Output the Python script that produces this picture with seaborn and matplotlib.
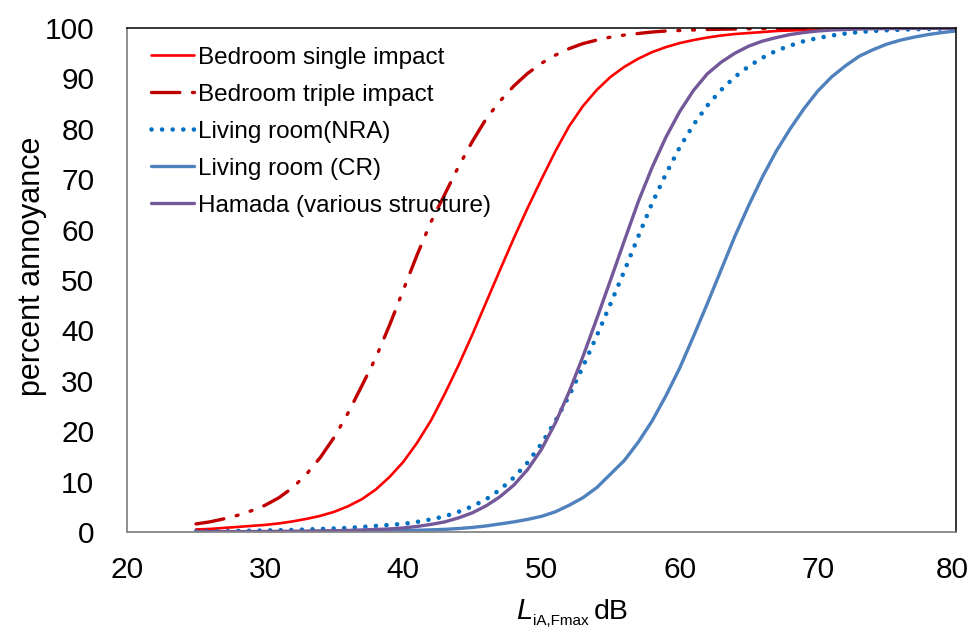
import matplotlib
matplotlib.use("Agg")
import matplotlib.pyplot as plt
import matplotlib.transforms as mtransforms
import seaborn as sns
import pandas as pd

# niveles LiA,Fmax (dB), un punto por dB
db = list(range(25, 81))

# porcentaje de molestia
bedroom_single = [0.5, 0.6, 0.8, 1.0, 1.2, 1.4, 1.7, 2.1, 2.6, 3.2,
                  4.0, 5.1, 6.5, 8.4, 10.9, 13.9, 17.7, 22.1, 27.4, 33.1,
                  39.2, 45.6, 52.0, 58.3, 64.3, 70.0, 75.5, 80.5, 84.5, 87.7,
                  90.3, 92.3, 93.9, 95.2, 96.2, 97.0, 97.6, 98.1, 98.5, 98.8,
                  99.0, 99.2, 99.4, 99.5, 99.6, 99.7, 99.75, 99.8, 99.85, 99.88,
                  99.9, 99.92, 99.94, 99.95, 99.96, 99.97]
bedroom_triple = [1.6, 2.0, 2.6, 3.3, 4.2, 5.3, 6.8, 8.8, 11.5, 14.8,
                  18.8, 23.6, 29.0, 34.5, 41.0, 48.0, 55.0, 61.5, 67.0, 72.5,
                  77.5, 82.0, 85.5, 88.5, 91.0, 93.0, 94.6, 95.9, 96.9, 97.6,
                  98.2, 98.6, 98.9, 99.2, 99.4, 99.5, 99.6, 99.7, 99.75, 99.8,
                  99.85, 99.88, 99.9, 99.92, 99.94, 99.95, 99.96, 99.97, 99.97, 99.98,
                  99.98, 99.98, 99.99, 99.99, 99.99, 99.99]
living_nra = [0.1, 0.1, 0.15, 0.2, 0.25, 0.3, 0.35, 0.4, 0.5, 0.6,
              0.7, 0.8, 1.0, 1.2, 1.4, 1.6, 2.0, 2.5, 3.1, 4.0,
              5.1, 6.5, 8.4, 10.8, 13.8, 17.5, 22.0, 27.0, 32.8, 38.9,
              45.3, 51.8, 58.6, 65.2, 71.0, 76.3, 80.8, 84.6, 87.7, 90.3,
              92.4, 94.1, 95.5, 96.5, 97.4, 98.0, 98.5, 98.9, 99.2, 99.4,
              99.55, 99.65, 99.75, 99.8, 99.85, 99.9]
living_cr = [0.02, 0.02, 0.03, 0.03, 0.04, 0.05, 0.05, 0.06, 0.07, 0.08,
             0.1, 0.12, 0.15, 0.18, 0.22, 0.28, 0.34, 0.42, 0.52, 0.68,
             0.9, 1.2, 1.6, 2.0, 2.5, 3.1, 4.0, 5.3, 6.8, 8.8,
             11.5, 14.2, 17.8, 22.0, 27.0, 32.5, 38.8, 45.3, 52.0, 58.7,
             64.8, 70.5, 75.6, 80.0, 84.0, 87.5, 90.3, 92.5, 94.4, 95.7,
             96.8, 97.6, 98.2, 98.7, 99.1, 99.4]
hamada = [0.05, 0.05, 0.06, 0.07, 0.08, 0.1, 0.12, 0.14, 0.17, 0.21,
          0.25, 0.3, 0.4, 0.5, 0.6, 0.8, 1.1, 1.5, 2.0, 2.8,
          3.8, 5.2, 7.0, 9.3, 12.4, 16.4, 21.6, 27.8, 34.8, 42.3,
          50.0, 57.8, 65.5, 72.3, 78.3, 83.4, 87.6, 90.9, 93.2, 95.0,
          96.4, 97.4, 98.1, 98.7, 99.1, 99.4, 99.6, 99.7, 99.8, 99.85,
          99.88, 99.9, 99.92, 99.94, 99.95, 99.96]

labels = ["Bedroom single impact", "Bedroom triple impact", "Living room(NRA)",
          "Living room (CR)", "Hamada (various structure)"]
x_ticks = [20, 30, 40, 50, 60, 70, 80]
y_ticks = [0, 10, 20, 30, 40, 50, 60, 70, 80, 90, 100]

df = pd.DataFrame({"db": db, labels[0]: bedroom_single, labels[1]: bedroom_triple,
                   labels[2]: living_nra, labels[3]: living_cr, labels[4]: hamada})

# estilo de cada serie
styles = {
    labels[0]: dict(color="#FF0000", lw=1.9, ls="-"),
    labels[1]: dict(color="#C00000", lw=2.4, ls=(0, (8.5, 3.8, 0.6, 3.8, 0.6, 3.8))),
    labels[2]: dict(color="#0070C0", lw=3.3, ls=(0, (0.01, 2.3))),
    labels[3]: dict(color="#4F81BD", lw=2.4, ls="-"),
    labels[4]: dict(color="#73589A", lw=2.4, ls="-"),
}

sns.set_style("white")
plt.rcParams["font.family"] = ["Liberation Sans", "DejaVu Sans"]
plt.rcParams["text.color"] = "black"
plt.rcParams["axes.labelcolor"] = "black"

fig, ax = plt.subplots(figsize=(9.69, 6.33), dpi=100)
fig.subplots_adjust(left=0.131, right=0.9866, bottom=0.1596, top=0.9558)

for name in labels:
    st = styles[name]
    sns.lineplot(x="db", y=name, data=df, ax=ax, label=name, color=st["color"],
                 linewidth=st["lw"], linestyle=st["ls"], dash_capstyle="round")

ax.set_xlim(20, 80)
ax.set_ylim(0, 100)
ax.set_xticks(x_ticks)
ax.set_yticks(y_ticks)
ax.tick_params(axis="both", labelsize=21.5, colors="#868686", labelcolor="black",
               direction="out", length=6.5, width=1.1)
ax.tick_params(axis="y", pad=17)
ax.tick_params(axis="x", pad=11)

# la etiqueta "80" queda pegada al borde, se corre un poco a la izquierda
last = ax.get_xticklabels()[-1]
last.set_transform(last.get_transform() + mtransforms.ScaledTranslation(-3 / 72, 0, fig.dpi_scale_trans))

for side in ["left", "bottom"]:
    ax.spines[side].set_color("#868686")
    ax.spines[side].set_linewidth(1.3)
for side in ["top", "right"]:
    ax.spines[side].set_color("black")
    ax.spines[side].set_linewidth(1.1)

ax.set_ylabel("percent annoyance", fontsize=22)
ax.yaxis.set_label_coords(-0.097, 0.528)
ax.set_xlabel("")

# etiqueta del eje x: L cursiva + subindice pequeño + "dB"
fig.canvas.draw()
r = fig.canvas.get_renderer()
W, H = fig.bbox.width, fig.bbox.height
base_y = 1 - 619 / H
t1 = fig.text(516 / W, base_y, "L", fontsize=21, style="italic", va="baseline")
x1 = t1.get_window_extent(r).x1
t2 = fig.text((x1 + 0.5) / W, base_y - 6 / H, "iA,Fmax", fontsize=11, va="baseline")
x2 = t2.get_window_extent(r).x1
fig.text((x2 + 5) / W, base_y, "dB", fontsize=20.5, va="baseline")

ax.legend(loc="upper left", bbox_to_anchor=(0.0085, 0.997), frameon=False, fontsize=17.5,
          handlelength=1.75, handletextpad=0.2, labelspacing=0.62, borderaxespad=0.3)

plt.savefig("out.png", dpi=100)
